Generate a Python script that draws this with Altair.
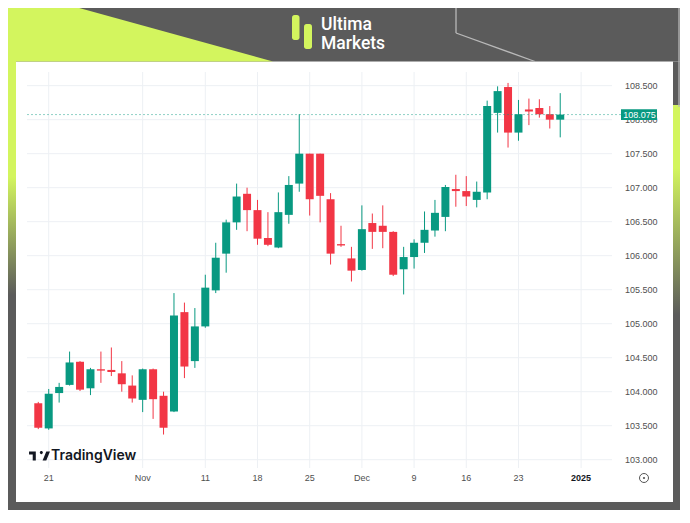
import altair as alt
import numpy as np
import pandas as pd

# ---------------- data ----------------
dates = ["2024-10-18", "2024-10-21", "2024-10-22", "2024-10-23", "2024-10-24", "2024-10-25",
         "2024-10-28", "2024-10-29", "2024-10-30", "2024-10-31", "2024-11-01",
         "2024-11-04", "2024-11-05", "2024-11-06", "2024-11-07", "2024-11-08",
         "2024-11-11", "2024-11-12", "2024-11-13", "2024-11-14", "2024-11-15",
         "2024-11-18", "2024-11-19", "2024-11-20", "2024-11-21", "2024-11-22",
         "2024-11-25", "2024-11-26", "2024-11-27", "2024-11-28", "2024-11-29",
         "2024-12-02", "2024-12-03", "2024-12-04", "2024-12-05", "2024-12-06",
         "2024-12-09", "2024-12-10", "2024-12-11", "2024-12-12", "2024-12-13",
         "2024-12-16", "2024-12-17", "2024-12-18", "2024-12-19", "2024-12-20",
         "2024-12-23", "2024-12-24", "2024-12-26", "2024-12-27", "2024-12-30"]

opens = [103.83, 103.46, 103.98, 104.10, 104.44, 104.05, 104.33, 104.32, 104.27, 104.09,
         103.88, 104.33, 103.94, 103.71, 105.17, 104.45, 104.96, 105.49, 106.03, 106.49,
         106.91, 106.67, 106.26, 106.12, 106.60, 107.06, 107.50, 107.50, 106.83, 106.17,
         105.96, 105.79, 106.48, 106.44, 106.35, 105.80, 105.98, 106.19, 106.37, 106.57,
         106.98, 106.95, 106.82, 106.93, 108.10, 108.48, 107.81, 108.15, 108.17, 108.08,
         108.00]
highs = [103.85, 104.04, 104.13, 104.59, 104.45, 104.35, 104.59, 104.65, 104.45, 104.24,
         104.34, 104.34, 104.00, 105.45, 105.31, 105.23, 105.72, 106.19, 106.53, 107.06,
         107.00, 106.82, 106.64, 106.93, 107.17, 108.08, 107.50, 107.50, 106.92, 106.44,
         106.13, 106.74, 106.62, 106.74, 106.36, 106.13, 106.24, 106.65, 106.82, 107.04,
         107.19, 107.17, 107.09, 108.28, 108.49, 108.54, 108.29, 108.31, 108.30, 108.20,
         108.39]
lows = [103.45, 103.44, 103.84, 104.09, 104.01, 103.95, 104.13, 104.23, 104.00, 103.84,
        103.70, 103.60, 103.37, 103.70, 104.20, 104.35, 104.94, 105.45, 105.75, 106.38,
        106.36, 106.16, 106.14, 106.11, 106.47, 106.94, 106.59, 106.49, 105.87, 106.13,
        105.62, 105.78, 106.10, 106.11, 105.70, 105.43, 105.81, 106.04, 106.28, 106.36,
        106.72, 106.73, 106.71, 106.83, 107.81, 107.59, 107.69, 107.92, 108.03, 107.87,
        107.74]
closes = [103.47, 103.97, 104.07, 104.43, 104.03, 104.33, 104.31, 104.29, 104.11, 103.90,
          104.33, 103.89, 103.47, 105.12, 104.37, 104.96, 105.53, 105.97, 106.49, 106.87,
          106.67, 106.25, 106.16, 106.64, 107.04, 107.50, 106.83, 106.88, 106.03, 106.15,
          105.78, 106.39, 106.35, 106.35, 105.72, 105.98, 106.19, 106.38, 106.63, 107.01,
          106.95, 106.87, 106.94, 108.20, 108.42, 107.81, 108.08, 108.12, 108.08, 108.00,
          108.075]

# x ticks: trading-day index (Oct 21 = 0) and their labels
tick_pos = [0, 9, 15, 20, 25, 30, 35, 40, 45, 51]
tick_text = ["21", "Nov", "11", "18", "25", "Dec", "9", "16", "23", "2025"]
price_ticks = [103.0, 103.5, 104.0, 104.5, 105.0, 105.5, 106.0, 106.5, 107.0, 107.5, 108.0, 108.5]

# ---------------- styling / layout ----------------
GREEN = "#089981"
RED = "#f23645"
GRAY = "#5b5b5b"
LIME = "#d3f55e"
GRID = "#edf0f4"
LABEL = "#4f4f4f"

PL, PR, PT, PB = 27, 612, 72, 468          # plot area in page pixels
W, H = PR - PL, PB - PT
PAD = {"left": PL - 8, "top": PT - 8, "right": 680 - PR, "bottom": 510 - PB}
X_DOMAIN = [-1.601, 53.48]
Y_DOMAIN = [102.878, 108.701]

df = pd.DataFrame({
    "idx": list(range(-1, len(dates) - 1)),
    "date": dates,
    "open": opens, "high": highs, "low": lows, "close": closes,
})
df["dir"] = np.where(df["close"] >= df["open"], "up", "down")
last = pd.DataFrame({"price": [closes[-1]]})
xt = pd.DataFrame({"t": tick_pos, "label": tick_text})
yt = pd.DataFrame({"p": price_ticks})
ONE = pd.DataFrame({"k": [0]})

xscale = alt.Scale(domain=X_DOMAIN, nice=False, zero=False)
yscale = alt.Scale(domain=Y_DOMAIN, nice=False, zero=False)
color = alt.Color("dir:N", scale=alt.Scale(domain=["up", "down"], range=[GREEN, RED]), legend=None)


def X(field):
    return alt.X(field, scale=xscale, axis=None)


def Y(field):
    return alt.Y(field, scale=yscale, axis=None)


def rx(px):
    return px - PL


def ry(py):
    return py - PT


def vrect(x1, y1, x2, y2, **mk):
    return alt.Chart(ONE).mark_rect(**mk).encode(
        x=alt.value(rx(x1)), x2=alt.value(rx(x2)), y=alt.value(ry(y1)), y2=alt.value(ry(y2)))


def vrule(x1, y1, x2, y2, **mk):
    return alt.Chart(ONE).mark_rule(**mk).encode(
        x=alt.value(rx(x1)), x2=alt.value(rx(x2)), y=alt.value(ry(y1)), y2=alt.value(ry(y2)))


def vtext(txt, x, y, **mk):
    return alt.Chart(ONE).mark_text(text=txt, **mk).encode(x=alt.value(rx(x)), y=alt.value(ry(y)))


def grad(stops):
    return alt.LinearGradient(gradient="linear", x1=0, x2=0, y1=0, y2=1,
                              stops=[alt.GradientStop(color=c, offset=o) for o, c in stops])


# ---------------- decoration (frame around the card) ----------------
decor = [
    vrect(0, 0, 700, 61.5, color=GRAY),
    vrect(0, 61.5, 16, 600, color=GRAY),
    vrect(673, 61.5, 700, 600, color=GRAY),
    vrect(0, 502, 700, 600, color=GRAY),
    vrect(0, 0, 16, 295, fill=grad([(0, LIME), (0.6, LIME), (1, GRAY)]), strokeWidth=0),
    vrect(673, 105, 700, 315, fill=grad([(0, LIME), (0.3, LIME), (1, GRAY)]), strokeWidth=0),
]
# lime triangle (custom symbol path, unit = 132.5 px)
tri_path = "M-1,-0.202 L-0.4626,-0.202 L1,0.202 L-1,0.202 Z"
decor.append(alt.Chart(ONE).mark_point(shape=tri_path, size=265 ** 2, filled=True, color=LIME,
                                       opacity=1, strokeWidth=0)
             .encode(x=alt.value(rx(140.5)), y=alt.value(ry(34.75))))
decor += [
    vrule(456, 0, 456, 33, color="#b9b9b9", strokeWidth=1.3),
    vrule(456, 33, 535, 61.5, color="#b9b9b9", strokeWidth=1.3),
    vrule(679, 0, 679, 107, color="#b9b9b9", strokeWidth=1.3),
    # Ultima Markets logo
    vrect(292, 15, 299.5, 40, color=LIME, cornerRadius=2.5),
    vrect(304, 24, 312, 49, color=LIME, cornerRadius=2.5),
    vtext(["Ultima", "Markets"], 321, 29.5, align="left", baseline="alphabetic", lineHeight=19,
          font="Roboto", fontSize=17.5, fontWeight=500, color="white"),
]

# ---------------- grid and scale labels ----------------
vgrid = alt.Chart(xt).mark_rule(color=GRID, strokeWidth=1).encode(
    x=X("t:Q"), y=alt.value(0), y2=alt.value(H))
hgrid = alt.Chart(yt).mark_rule(color=GRID, strokeWidth=1).encode(
    y=Y("p:Q"), x=alt.value(0), x2=alt.value(W))
xlab = alt.Chart(xt).transform_filter("datum.label != '2025'").mark_text(
    font="Liberation Sans", fontSize=9, color=LABEL, baseline="middle", align="center").encode(
    x=X("t:Q"), y=alt.value(H + 10), text="label:N")
xlab_year = alt.Chart(xt).transform_filter("datum.label == '2025'").mark_text(
    font="Liberation Sans", fontSize=9, fontWeight="bold", color="#131722", baseline="middle",
    align="center").encode(x=X("t:Q"), y=alt.value(H + 10), text="label:N")
ylab = alt.Chart(yt).mark_text(font="Liberation Sans", fontSize=9, color=LABEL, align="left",
                               baseline="middle").encode(
    y=Y("p:Q"), x=alt.value(W + 13), text=alt.Text("p:Q", format=".3f"))

# ---------------- candles ----------------
base = alt.Chart(df)
wicks = base.mark_rule(strokeWidth=1).encode(x=X("idx:Q"), y=Y("low:Q"), y2="high:Q", color=color)
bodies = base.mark_bar(size=8).encode(x=X("idx:Q"), y=Y("open:Q"), y2="close:Q", color=color)

# last price line and label
price_line = alt.Chart(last).mark_rule(color=GREEN, strokeDash=[2, 2], opacity=0.45, strokeWidth=1).encode(
    x=alt.value(0), x2=alt.value(rx(621)), y=Y("price:Q"))
box_path = "M-1,-0.3 L1,-0.3 L1,0.3 L-1,0.3 Z"
price_box = alt.Chart(last).mark_point(shape=box_path, size=36 ** 2, filled=True, color=GREEN,
                                       opacity=1, strokeWidth=0).encode(
    x=alt.value(rx(639)), y=Y("price:Q"))
price_txt = alt.Chart(last).mark_text(color="white", fontSize=9, font="Liberation Sans",
                                      align="center", baseline="middle").encode(
    x=alt.value(rx(639.5)), y=Y("price:Q"), text=alt.Text("price:Q", format=".3f"))

# TradingView watermark and clock icon
tv_path = ("M-0.168,-0.42 L-0.952,-0.42 L-0.952,-0.14 L-0.616,-0.14 L-0.616,0.42 L-0.336,0.42 "
           "L-0.336,-0.42 Z M0.028,-0.308 A0.14,0.14 0 1 1 0.308,-0.308 A0.14,0.14 0 1 1 0.028,-0.308 Z "
           "M0.616,0.42 L0.28,0.42 L0.616,-0.42 L0.952,-0.42 Z")
tv_logo = alt.Chart(ONE).mark_point(shape=tv_path, size=484, filled=True, color="#131722",
                                    opacity=1, strokeWidth=0).encode(
    x=alt.value(rx(39.5)), y=alt.value(ry(456)))
tv_text = vtext("TradingView", 51, 456, align="left", baseline="middle", font="Inter",
                fontSize=14, fontWeight=600, color="#131722")
clock = alt.Chart(ONE).mark_point(shape="circle", size=81, filled=False, color="#555555",
                                  strokeWidth=1, opacity=1).encode(
    x=alt.value(rx(644)), y=alt.value(ry(478)))
clock_dot = alt.Chart(ONE).mark_point(shape="circle", size=5, filled=True, color="#555555",
                                      opacity=1).encode(
    x=alt.value(rx(644)), y=alt.value(ry(478)))

chart = alt.layer(
    *decor, vgrid, hgrid, xlab, xlab_year, ylab,
    wicks, bodies, price_line, price_box, price_txt, tv_logo, tv_text, clock, clock_dot
).properties(
    width=W, height=H, padding=PAD,
    autosize=alt.AutoSizeParams(type="none"),
    background="white",
).configure_view(strokeWidth=0)

chart.save("out.html", embed_options={"renderer": "svg", "actions": False})
